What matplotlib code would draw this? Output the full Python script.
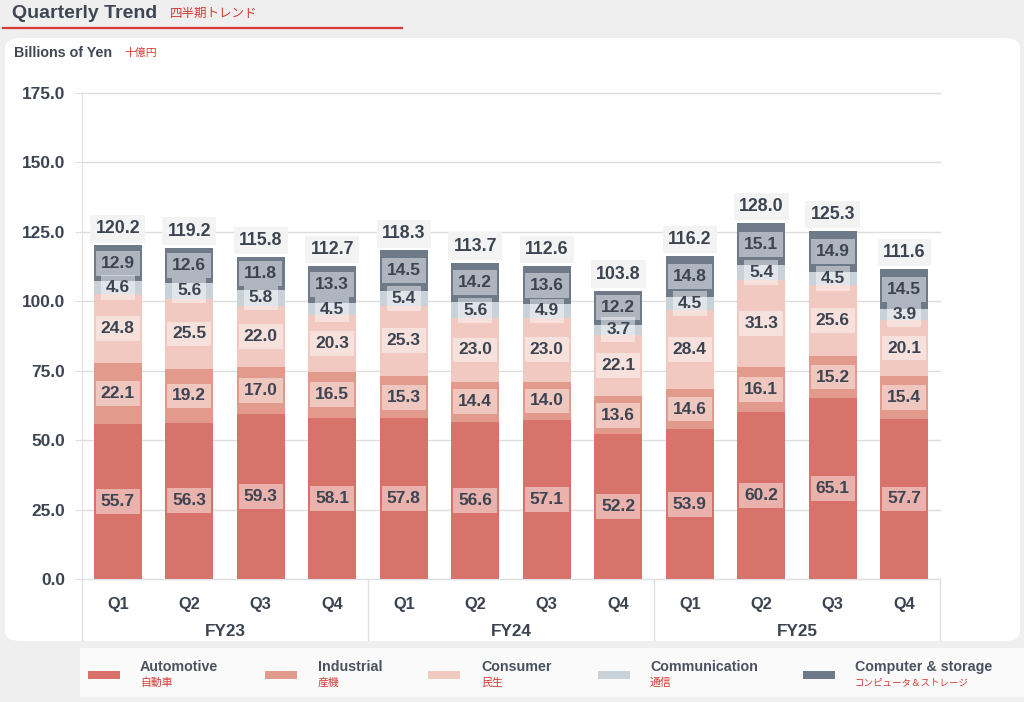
import matplotlib
matplotlib.use("Agg")
import matplotlib.pyplot as plt
from matplotlib.patches import FancyBboxPatch, Rectangle
from matplotlib.lines import Line2D
import numpy as np

plt.rcParams['font.family'] = ['Liberation Sans', 'Noto Sans CJK JP', 'DejaVu Sans']

years = ["FY23", "FY24", "FY25"]
quarters = ["Q1", "Q2", "Q3", "Q4"] * 3
automotive = [55.7, 56.3, 59.3, 58.1, 57.8, 56.6, 57.1, 52.2, 53.9, 60.2, 65.1, 57.7]
industrial = [22.1, 19.2, 17.0, 16.5, 15.3, 14.4, 14.0, 13.6, 14.6, 16.1, 15.2, 15.4]
consumer = [24.8, 25.5, 22.0, 20.3, 25.3, 23.0, 23.0, 22.1, 28.4, 31.3, 25.6, 20.1]
communication = [4.6, 5.6, 5.8, 4.5, 5.4, 5.6, 4.9, 3.7, 4.5, 5.4, 4.5, 3.9]
computer = [12.9, 12.6, 11.8, 13.3, 14.5, 14.2, 13.6, 12.2, 14.8, 15.1, 14.9, 14.5]
totals = [120.2, 119.2, 115.8, 112.7, 118.3, 113.7, 112.6, 103.8, 116.2, 128.0, 125.3, 111.6]
series_en = ["Automotive", "Industrial", "Consumer", "Communication", "Computer & storage"]
series_jp = ["自動車", "産機", "民生", "通信", "コンピュータ＆ストレージ"]
yticks = [0, 25, 50, 75, 100, 125, 150, 175]

colors = ["#d8736b", "#e29a8c", "#f2c9c1", "#c9d1d9", "#6f7a89"]
txt = "#3c4452"
red = "#d63a34"

W, H = 1024, 702
fig = plt.figure(figsize=(W / 100, H / 100), dpi=100)
fig.patch.set_facecolor("#efefef")

def fx(px):
    return px / W

def fy(py):
    return 1 - py / H

# white panel
panel = FancyBboxPatch((fx(5), fy(641)), fx(1020) - fx(5), fy(38) - fy(641),
                       boxstyle="round,pad=0,rounding_size=0.015",
                       transform=fig.transFigure, facecolor="white", edgecolor="none", zorder=-10)
fig.patches.append(panel)
# legend strip
strip = Rectangle((fx(80), fy(697)), 1 - fx(80), fy(648) - fy(697), transform=fig.transFigure,
                  facecolor="#fafafa", edgecolor="none", zorder=-10)
fig.patches.append(strip)

# title
fig.text(fx(12), fy(13), "Quarterly Trend", fontsize=14, fontweight="bold", color="#3f4754",
         va="center", ha="left")
fig.text(fx(170), fy(13), "四半期トレンド", fontsize=9, color=red, va="center", ha="left",
         family=['Noto Sans CJK JP'])
fig.add_artist(Line2D([fx(3), fx(402)], [fy(27.5), fy(27.5)], transform=fig.transFigure,
                      color=red, lw=1.6))
fig.text(fx(14), fy(53), "Billions of Yen", fontsize=10.3, fontweight="bold", color="#3f4754",
         va="center", ha="left")
fig.text(fx(124), fy(53), "十億円", fontsize=7.8, color=red, va="center", ha="left",
         family=['Noto Sans CJK JP'])

ax = fig.add_axes([fx(82), fy(579), fx(940) - fx(82), fy(93) - fy(579)])
ax.set_facecolor("none")
x = np.arange(len(automotive))
bw = 0.67
data = [automotive, industrial, consumer, communication, computer]
bottom = np.zeros(len(x))
for vals, c in zip(data, colors):
    vals = np.array(vals)
    ax.bar(x, vals, bw, bottom=bottom, color=c, edgecolor="none", zorder=2)
    for xi, b, v in zip(x, bottom, vals):
        ax.text(xi, b + v / 2, f"{v:.1f}", ha="center", va="center", fontsize=12.5,
                fontweight="bold", color=txt, zorder=4,
                bbox=dict(boxstyle="square,pad=0.28", facecolor="white", alpha=0.45,
                          edgecolor="none"))
    bottom += vals

for xi, t, top in zip(x, totals, bottom):
    ax.text(xi, top + 6.0, f"{t:.1f}", ha="center", va="center", fontsize=12.8,
            fontweight="bold", color=txt, zorder=4,
            bbox=dict(boxstyle="square,pad=0.3", facecolor="#f3f3f3", edgecolor="none"))

ax.set_xlim(-0.5, len(x) - 0.5)
ax.set_ylim(0, 175)
ax.set_yticks(yticks)
ax.set_yticklabels([f"{v:.1f}" for v in yticks], fontsize=12.4, fontweight="bold", color=txt)
ax.yaxis.grid(True, color="#dedede", lw=1, zorder=0)
ax.set_axisbelow(True)
ax.tick_params(axis="y", length=5, color="#dedede", pad=7)
ax.tick_params(axis="x", length=0)
ax.set_xticks(x)
ax.set_xticklabels(quarters, fontsize=11.8, fontweight="bold", color=txt)
ax.tick_params(axis="x", pad=13)
for s in ["top", "right"]:
    ax.spines[s].set_visible(False)
ax.spines["left"].set_color("#dde1e5")
ax.spines["bottom"].set_color("#dde1e5")
for gl in ax.get_ygridlines():
    gl.set_clip_on(False)

# year separators and labels
trans = ax.get_xaxis_transform()
for xs in [-0.5, 3.5, 7.5, 11.5]:
    ax.add_line(Line2D([xs, xs], [0, -(640 - 579) / (579 - 93)], transform=trans,
                       color="#dde1e5", lw=1, clip_on=False))
for i, yr in enumerate(years):
    ax.text(i * 4 + 1.5, -(632 - 579) / (579 - 93), yr, transform=trans, ha="center",
            va="center", fontsize=12.3, fontweight="bold", color=txt)

# legend
patch_x = [88, 265, 428, 598, 803]
text_x = [140, 318, 481, 650, 855]
jp_sizes = [7.8, 7.8, 7.8, 7.8, 6.8]
for px, tx, c, en, jp, js in zip(patch_x, text_x, colors, series_en, series_jp, jp_sizes):
    fig.patches.append(Rectangle((fx(px), fy(679)), fx(32), fy(671) - fy(679),
                                 transform=fig.transFigure, facecolor=c, edgecolor="none"))
    fig.text(fx(tx), fy(667), en, fontsize=10.3, fontweight="bold", color="#4a5260",
             va="center", ha="left")
    fig.text(fx(tx), fy(683), jp, fontsize=js, color=red, va="center", ha="left",
             family=['Noto Sans CJK JP'])

fig.savefig("out.png", dpi=100, facecolor=fig.get_facecolor())
